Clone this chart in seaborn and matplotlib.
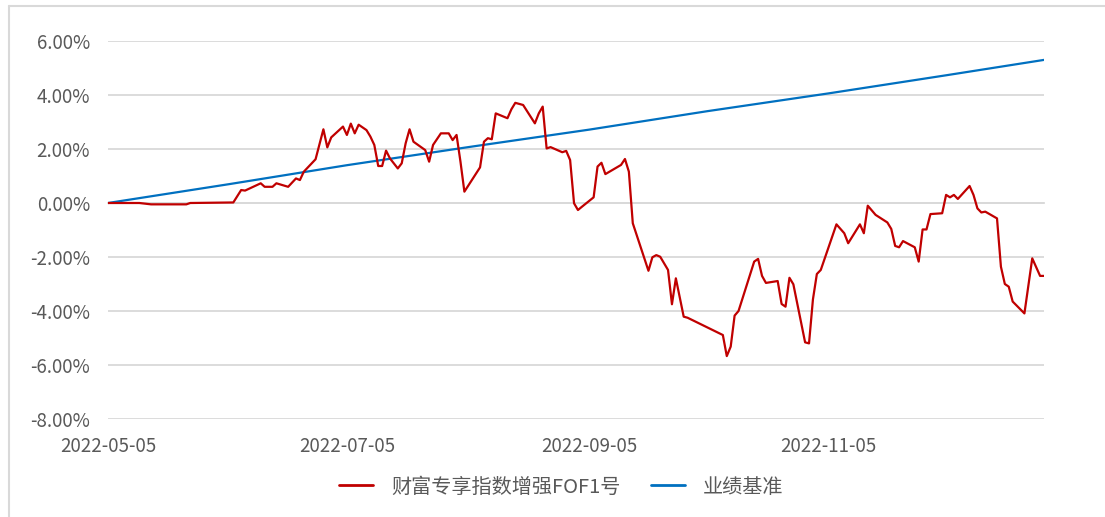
import matplotlib
matplotlib.use("Agg")
import matplotlib.pyplot as plt
import matplotlib.dates as mdates
from matplotlib.lines import Line2D
import numpy as np
import pandas as pd
import seaborn as sns

# fund curve (%)
fund_dates = [
    "2022-05-05", "2022-05-13", "2022-05-16", "2022-05-25", "2022-05-26", "2022-06-06",
    "2022-06-08", "2022-06-09", "2022-06-13", "2022-06-14", "2022-06-16", "2022-06-17",
    "2022-06-20", "2022-06-22", "2022-06-23", "2022-06-24", "2022-06-27", "2022-06-29",
    "2022-06-30", "2022-07-01", "2022-07-04", "2022-07-05", "2022-07-06", "2022-07-07",
    "2022-07-08", "2022-07-10", "2022-07-11", "2022-07-12", "2022-07-13", "2022-07-14",
    "2022-07-15", "2022-07-16", "2022-07-18", "2022-07-19", "2022-07-20", "2022-07-21",
    "2022-07-22", "2022-07-25", "2022-07-26", "2022-07-27", "2022-07-29", "2022-07-31",
    "2022-08-01", "2022-08-02", "2022-08-03", "2022-08-04", "2022-08-08", "2022-08-09",
    "2022-08-10", "2022-08-11", "2022-08-12", "2022-08-15", "2022-08-16", "2022-08-17",
    "2022-08-19", "2022-08-22", "2022-08-23", "2022-08-24", "2022-08-25", "2022-08-26",
    "2022-08-29", "2022-08-30", "2022-08-31", "2022-09-01", "2022-09-02", "2022-09-03",
    "2022-09-06", "2022-09-07", "2022-09-08", "2022-09-09", "2022-09-13", "2022-09-14",
    "2022-09-15", "2022-09-16", "2022-09-20", "2022-09-21", "2022-09-22", "2022-09-23",
    "2022-09-25", "2022-09-26", "2022-09-27", "2022-09-29", "2022-09-30", "2022-10-09",
    "2022-10-10", "2022-10-11", "2022-10-12", "2022-10-13", "2022-10-17", "2022-10-18",
    "2022-10-19", "2022-10-20", "2022-10-23", "2022-10-24", "2022-10-25", "2022-10-26",
    "2022-10-27", "2022-10-30", "2022-10-31", "2022-11-01", "2022-11-02", "2022-11-03",
    "2022-11-07", "2022-11-09", "2022-11-10", "2022-11-13", "2022-11-14", "2022-11-15",
    "2022-11-17", "2022-11-20", "2022-11-21", "2022-11-22", "2022-11-23", "2022-11-24",
    "2022-11-27", "2022-11-28", "2022-11-29", "2022-11-30", "2022-12-01", "2022-12-04",
    "2022-12-05", "2022-12-06", "2022-12-07", "2022-12-08", "2022-12-11", "2022-12-12",
    "2022-12-13", "2022-12-14", "2022-12-15", "2022-12-18", "2022-12-19", "2022-12-20",
    "2022-12-21", "2022-12-22", "2022-12-25", "2022-12-27", "2022-12-29", "2022-12-30",
]
fund_vals = [
    0.00, 0.00, -0.05, -0.05, 0.00, 0.02,
    0.48, 0.46, 0.73, 0.60, 0.60, 0.73,
    0.60, 0.91, 0.85, 1.16, 1.62, 2.73,
    2.06, 2.43, 2.83, 2.52, 2.94, 2.58,
    2.90, 2.70, 2.46, 2.15, 1.37, 1.37,
    1.94, 1.65, 1.28, 1.47, 2.21, 2.73,
    2.27, 1.96, 1.53, 2.15, 2.58, 2.58,
    2.33, 2.52, 1.53, 0.42, 1.32, 2.27,
    2.40, 2.36, 3.32, 3.14, 3.47, 3.71,
    3.63, 2.95, 3.32, 3.57, 2.02, 2.07,
    1.88, 1.93, 1.59, -0.01, -0.26, -0.14,
    0.21, 1.35, 1.49, 1.07, 1.41, 1.63,
    1.16, -0.75, -2.51, -2.01, -1.93, -1.99,
    -2.48, -3.75, -2.79, -4.21, -4.25, -4.89,
    -5.67, -5.32, -4.17, -4.00, -2.17, -2.07,
    -2.70, -2.96, -2.89, -3.74, -3.84, -2.77,
    -3.01, -5.16, -5.20, -3.57, -2.63, -2.48,
    -0.79, -1.12, -1.49, -0.79, -1.12, -0.10,
    -0.44, -0.72, -0.96, -1.59, -1.64, -1.41,
    -1.64, -2.17, -0.98, -0.98, -0.41, -0.38,
    0.30, 0.21, 0.30, 0.15, 0.63, 0.30,
    -0.20, -0.35, -0.32, -0.57, -2.36, -3.00,
    -3.10, -3.65, -4.09, -2.05, -2.70, -2.70,
]

# benchmark (%)
bench_dates = ["2022-05-05", "2022-06-05", "2022-07-05", "2022-08-05", "2022-09-05",
               "2022-10-05", "2022-11-05", "2022-12-05", "2022-12-30"]
bench_vals = [0.00, 0.70, 1.40, 2.07, 2.72, 3.40, 4.06, 4.73, 5.30]

x_ticks = ["2022-05-05", "2022-07-05", "2022-09-05", "2022-11-05"]
y_ticks = [-8, -6, -4, -2, 0, 2, 4, 6]
names = ["财富专享指数增强FOF1号", "业绩基准"]

red = "#C00000"
blue = "#0070C0"
grey_txt = "#595959"
grid_c = "#D9D9D9"

sns.set_style("white")
plt.rcParams["font.family"] = ["Noto Sans CJK SC", "DejaVu Sans"]

fund = pd.DataFrame({"date": pd.to_datetime(fund_dates), "val": fund_vals})
bench = pd.DataFrame({"date": pd.to_datetime(bench_dates), "val": bench_vals})

fig = plt.figure(figsize=(11.05, 5.17), dpi=100)
ax = fig.add_axes([108 / 1105, 98 / 517, (1044 - 108) / 1105, (476 - 98) / 517])

sns.lineplot(data=bench, x="date", y="val", color=blue, linewidth=1.6, ax=ax)
sns.lineplot(data=fund, x="date", y="val", color=red, linewidth=1.6, ax=ax)

ax.set_xlim(pd.Timestamp("2022-05-05"), pd.Timestamp("2022-12-30"))
ax.set_ylim(-8, 6)
ax.set_yticks(y_ticks)
ax.set_yticklabels([f"{v:.2f}%" for v in y_ticks])
ax.set_xticks(pd.to_datetime(x_ticks))
ax.xaxis.set_major_formatter(mdates.DateFormatter("%Y-%m-%d"))
ax.set_xlabel("")
ax.set_ylabel("")

ax.grid(axis="y", color=grid_c, linewidth=1.3)
ax.set_axisbelow(True)
for s in ["top", "right", "left"]:
    ax.spines[s].set_visible(False)
ax.spines["bottom"].set_position(("data", 0))
ax.spines["bottom"].set_color(grid_c)
ax.spines["bottom"].set_linewidth(1.3)
ax.spines["bottom"].set_zorder(0.5)

ax.tick_params(axis="y", length=0, pad=13, labelsize=13.5, labelcolor=grey_txt)
ax.tick_params(axis="x", length=6, width=1.3, color="#BFBFBF", direction="out",
               pad=162, labelsize=13.5, labelcolor=grey_txt)

handles = [Line2D([], [], color=red, linewidth=2), Line2D([], [], color=blue, linewidth=2)]
fig.legend(handles, names, loc="center", bbox_to_anchor=(0.508, 0.058), ncol=2,
           frameon=False, fontsize=14.5, labelcolor=grey_txt, handlelength=1.7,
           columnspacing=1.5, handletextpad=0.9)

# chart-area border (only top and left edges visible in the crop)
fig.add_artist(Line2D([9 / 1105, 9 / 1105], [0, 1 - 6 / 517], color=grid_c, linewidth=1.5))
fig.add_artist(Line2D([9 / 1105, 1], [1 - 6 / 517, 1 - 6 / 517], color=grid_c, linewidth=1.5))

fig.savefig("out.png", dpi=100)
